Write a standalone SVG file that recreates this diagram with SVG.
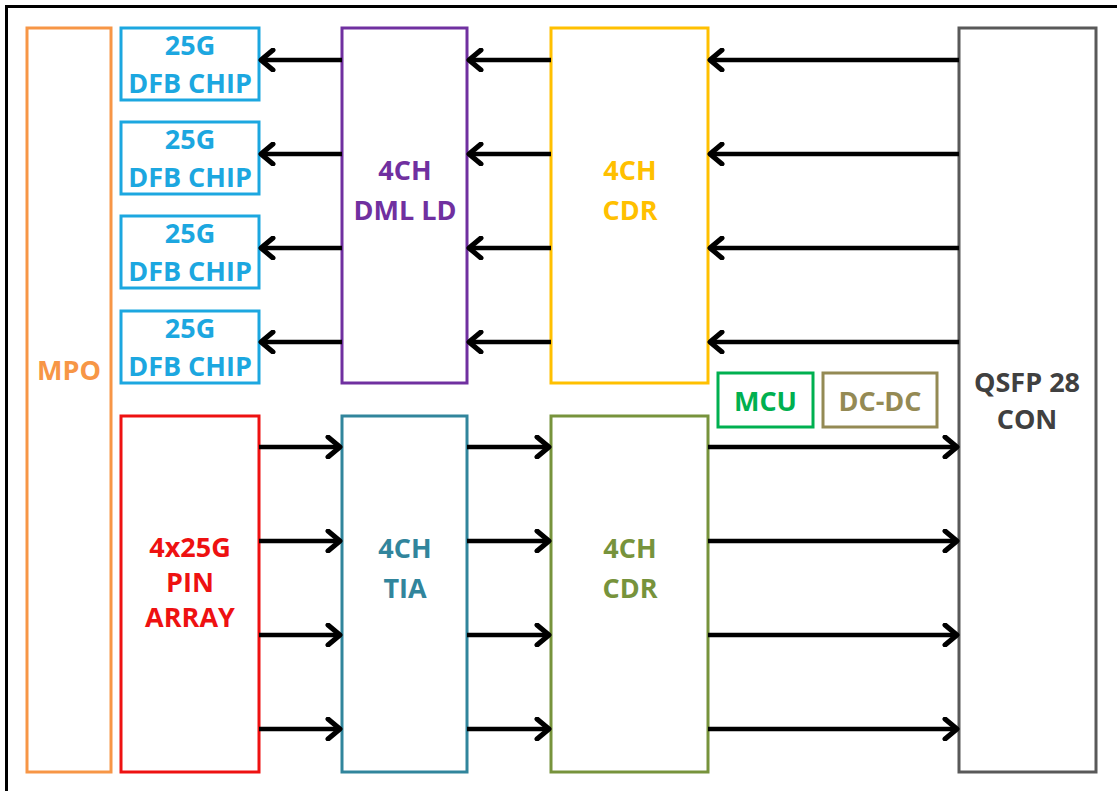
<svg xmlns="http://www.w3.org/2000/svg" width="1117" height="791" viewBox="0 0 1117 791">
<defs>
<style>
.box{fill:#fff;stroke-width:3}
.t{font-family:"Open Sans","Liberation Sans",sans-serif;font-weight:bold;font-size:27px;text-anchor:middle}
.c{stroke:#000;stroke-width:4.5;fill:none;marker-end:url(#ah)}
</style>
<marker id="ah" viewBox="0 0 18 24" refX="15" refY="12" markerWidth="18" markerHeight="24" markerUnits="userSpaceOnUse" orient="auto">
<path d="M3,2 L15,12 L3,22" fill="none" stroke="#000" stroke-width="5" stroke-linecap="round" stroke-linejoin="round"/>
</marker>
</defs>
<rect x="0" y="0" width="1117" height="791" fill="#fff"/>
<rect x="6.5" y="6.5" width="1130" height="810" fill="none" stroke="#000" stroke-width="3"/>
<g id="mpo"><rect class="box" x="27" y="28" width="84" height="744" stroke="#F79646"/><text class="t" x="69" y="380" fill="#F79646">MPO</text></g>
<g id="dfb1"><rect class="box" x="121" y="28" width="138" height="72" stroke="#1CA7E0"/><text class="t" x="190" y="55" fill="#1CA7E0">25G</text><text class="t" x="190" y="93" fill="#1CA7E0">DFB CHIP</text></g>
<g id="dfb2"><rect class="box" x="121" y="122" width="138" height="72" stroke="#1CA7E0"/><text class="t" x="190" y="149" fill="#1CA7E0">25G</text><text class="t" x="190" y="187" fill="#1CA7E0">DFB CHIP</text></g>
<g id="dfb3"><rect class="box" x="121" y="216" width="138" height="72" stroke="#1CA7E0"/><text class="t" x="190" y="243" fill="#1CA7E0">25G</text><text class="t" x="190" y="281" fill="#1CA7E0">DFB CHIP</text></g>
<g id="dfb4"><rect class="box" x="121" y="311" width="138" height="72" stroke="#1CA7E0"/><text class="t" x="190" y="338" fill="#1CA7E0">25G</text><text class="t" x="190" y="376" fill="#1CA7E0">DFB CHIP</text></g>
<g id="dml"><rect class="box" x="342" y="28" width="125" height="355" stroke="#7030A0"/><text class="t" x="405" y="180" fill="#7030A0">4CH</text><text class="t" x="405" y="220" fill="#7030A0">DML LD</text></g>
<g id="cdr_tx"><rect class="box" x="551" y="28" width="157" height="355" stroke="#FFC000"/><text class="t" x="630" y="180" fill="#FFC000">4CH</text><text class="t" x="630" y="220" fill="#FFC000">CDR</text></g>
<g id="pin"><rect class="box" x="121" y="416" width="138" height="356" stroke="#EE1111"/><text class="t" x="190" y="557" fill="#EE1111">4x25G</text><text class="t" x="190" y="592" fill="#EE1111">PIN</text><text class="t" x="190" y="627" fill="#EE1111">ARRAY</text></g>
<g id="tia"><rect class="box" x="342" y="416" width="125" height="356" stroke="#31859C"/><text class="t" x="405" y="558" fill="#31859C">4CH</text><text class="t" x="405" y="598" fill="#31859C">TIA</text></g>
<g id="cdr_rx"><rect class="box" x="551" y="416" width="157" height="356" stroke="#77933C"/><text class="t" x="630" y="558" fill="#77933C">4CH</text><text class="t" x="630" y="598" fill="#77933C">CDR</text></g>
<g id="mcu"><rect class="box" x="718" y="373" width="95" height="54" stroke="#00B050"/><text class="t" x="765.5" y="411" fill="#00B050">MCU</text></g>
<g id="dcdc"><rect class="box" x="823" y="373" width="114" height="54" stroke="#948A54"/><text class="t" x="880" y="411" fill="#948A54">DC-DC</text></g>
<g id="qsfp"><rect class="box" x="959" y="28" width="137" height="744" stroke="#595959"/><text class="t" x="1027" y="392" fill="#404040">QSFP 28</text><text class="t" x="1027" y="429" fill="#404040">CON</text></g>
<g id="connectors">
<line class="c" x1="959" y1="60" x2="710" y2="60"/><line class="c" x1="551" y1="60" x2="469" y2="60"/><line class="c" x1="342" y1="60" x2="261" y2="60"/>
<line class="c" x1="959" y1="154" x2="710" y2="154"/><line class="c" x1="551" y1="154" x2="469" y2="154"/><line class="c" x1="342" y1="154" x2="261" y2="154"/>
<line class="c" x1="959" y1="248" x2="710" y2="248"/><line class="c" x1="551" y1="248" x2="469" y2="248"/><line class="c" x1="342" y1="248" x2="261" y2="248"/>
<line class="c" x1="959" y1="342" x2="710" y2="342"/><line class="c" x1="551" y1="342" x2="469" y2="342"/><line class="c" x1="342" y1="342" x2="261" y2="342"/>
<line class="c" x1="259" y1="447" x2="340" y2="447"/><line class="c" x1="467" y1="447" x2="549" y2="447"/><line class="c" x1="708" y1="447" x2="957" y2="447"/>
<line class="c" x1="259" y1="541" x2="340" y2="541"/><line class="c" x1="467" y1="541" x2="549" y2="541"/><line class="c" x1="708" y1="541" x2="957" y2="541"/>
<line class="c" x1="259" y1="635" x2="340" y2="635"/><line class="c" x1="467" y1="635" x2="549" y2="635"/><line class="c" x1="708" y1="635" x2="957" y2="635"/>
<line class="c" x1="259" y1="729" x2="340" y2="729"/><line class="c" x1="467" y1="729" x2="549" y2="729"/><line class="c" x1="708" y1="729" x2="957" y2="729"/>
</g>
</svg>
